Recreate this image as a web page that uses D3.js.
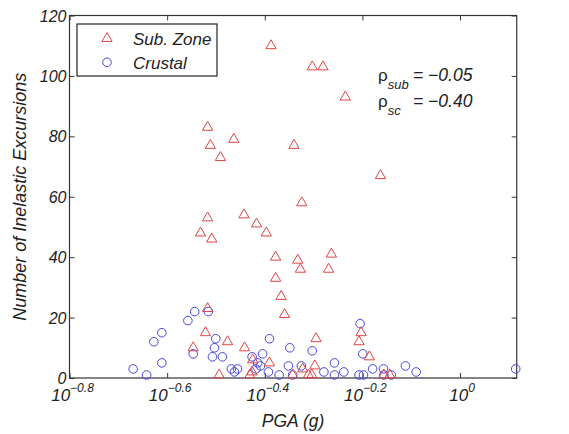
<!DOCTYPE html>
<html>
<head>
<meta charset="utf-8">
<script src="https://cdn.jsdelivr.net/npm/d3@7"></script>
<style>
  body { margin: 0; background: #fff; }
  text { font-family: "Liberation Sans", Arial, sans-serif; font-style: italic; fill: #222; }
</style>
</head>
<body>
<svg id="chart" width="569" height="434"></svg>
<script>
// Sub. Zone records (PGA in g, count)
const subPGA = [0.410, 0.498, 0.524, 0.582, 0.304, 0.344, 0.308, 0.457, 0.323, 0.687,
                0.474, 0.361, 0.304, 0.383, 0.294, 0.401, 0.310, 0.545, 0.419, 0.465,
                0.471, 0.538, 0.419, 0.430, 0.437, 0.304, 0.301, 0.627, 0.334, 0.507,
                0.621, 0.284, 0.362, 0.652, 0.407, 0.504, 0.476, 0.321, 0.371, 0.375,
                0.489, 0.497, 0.454, 0.698, 0.718, 0.376];
const subCount = [110, 103, 103, 93, 83, 79, 77, 77, 73, 67,
                  58, 54, 53, 51, 48, 48, 46, 41, 40, 39,
                  36, 36, 33, 27, 21, 23, 15, 15, 12, 13,
                  12, 10, 10, 7, 5, 4, 3, 1, 1, 2,
                  1, 1, 1, 1, 1, 6];

// Crustal records
const crustalPGA = [0.214, 0.228, 0.236, 0.245, 0.245, 0.277, 0.286, 0.305, 0.284, 0.316,
                    0.314, 0.311, 0.326, 0.340, 0.350, 0.345, 0.375, 0.394, 0.385, 0.382,
                    0.390, 0.405, 0.426, 0.407, 0.448, 0.445, 0.473, 0.454, 0.498, 0.526,
                    0.553, 0.553, 0.578, 0.624, 0.632, 0.621, 0.634, 0.662, 0.697, 0.698,
                    0.723, 0.773, 0.813, 1.300];
const crustalCount = [3, 1, 12, 15, 5, 19, 22, 22, 8, 13,
                      10, 7, 7, 3, 3, 2, 7, 8, 5, 3,
                      4, 2, 1, 13, 10, 4, 4, 1, 9, 2,
                      5, 1, 2, 18, 8, 1, 1, 3, 3, 1,
                      1, 4, 2, 3];

const xTickExp = ["-0.8", "-0.6", "-0.4", "-0.2", "0"];
const yTicks = [0, 20, 40, 60, 80, 100, 120];

const svg = d3.select("#chart");
const plot = {left: 69.5, right: 516.7, top: 15.5, bottom: 378};
const axisColor = "#333";

const x = d3.scaleLog().domain([Math.pow(10, -0.8), Math.pow(10, 0.116)]).range([plot.left, plot.right]);
const y = d3.scaleLinear().domain([0, 120]).range([plot.bottom, plot.top]);
const xTickVals = xTickExp.map(e => Math.pow(10, +e));

// axes with inward ticks
svg.append("g")
    .attr("transform", "translate(0," + plot.bottom + ")")
    .call(d3.axisBottom(x).tickValues(xTickVals).tickSizeInner(-5).tickSizeOuter(0).tickFormat(""))
    .call(g => g.select(".domain").remove());
svg.append("g")
    .attr("transform", "translate(0," + plot.top + ")")
    .call(d3.axisTop(x).tickValues(xTickVals).tickSizeInner(-5).tickSizeOuter(0).tickFormat(""))
    .call(g => g.select(".domain").remove());
svg.append("g")
    .attr("transform", "translate(" + plot.left + ",0)")
    .call(d3.axisLeft(y).tickValues(yTicks).tickSizeInner(-5).tickSizeOuter(0).tickFormat(""))
    .call(g => g.select(".domain").remove());
svg.append("g")
    .attr("transform", "translate(" + plot.right + ",0)")
    .call(d3.axisRight(y).tickValues(yTicks).tickSizeInner(-5).tickSizeOuter(0).tickFormat(""))
    .call(g => g.select(".domain").remove());
svg.selectAll(".tick line").attr("stroke", axisColor);

svg.append("rect")
    .attr("x", plot.left).attr("y", plot.top)
    .attr("width", plot.right - plot.left).attr("height", plot.bottom - plot.top)
    .attr("fill", "none").attr("stroke", axisColor).attr("stroke-width", 1.2);

// y tick labels
svg.append("g").selectAll("text")
  .data(yTicks)
  .enter().append("text")
    .attr("x", plot.left - 3)
    .attr("y", d => y(d) + 6)
    .attr("text-anchor", "end")
    .attr("font-size", 16)
    .text(d => d);

// x tick labels: 10^exp
const xl = svg.append("g").selectAll("text")
  .data(xTickExp)
  .enter().append("text")
    .attr("x", d => x(Math.pow(10, +d)) + (d === "0" ? 2 : 3))
    .attr("y", 401)
    .attr("text-anchor", "middle")
    .attr("font-size", 17);
xl.append("tspan").text("10");
xl.append("tspan")
    .attr("dy", -9)
    .attr("font-size", 12)
    .text(d => d.replace("-", "\u2212"));

// axis titles
svg.append("text")
    .attr("x", (plot.left + plot.right) / 2)
    .attr("y", 427)
    .attr("text-anchor", "middle")
    .attr("font-size", 17.5)
    .text("PGA (g)");
svg.append("text")
    .attr("transform", "translate(26," + (plot.top + plot.bottom) / 2 + ") rotate(-90)")
    .attr("text-anchor", "middle")
    .attr("font-size", 18)
    .text("Number of Inelastic Excursions");

const subColor = "#e04545", crustColor = "#4545e0";
const tri = d3.symbol().type(d3.symbolTriangle).size(46);

// crustal circles
svg.append("g").selectAll("circle")
  .data(crustalPGA)
  .enter().append("circle")
    .attr("cx", d => x(d))
    .attr("cy", (d, i) => y(crustalCount[i]))
    .attr("r", 4.3)
    .attr("fill", "none")
    .attr("stroke", crustColor)
    .attr("stroke-width", 1);

// sub zone triangles
svg.append("g").selectAll("path")
  .data(subPGA)
  .enter().append("path")
    .attr("d", tri)
    .attr("transform", (d, i) => "translate(" + x(d) + "," + y(subCount[i]) + ")")
    .attr("fill", "none")
    .attr("stroke", subColor)
    .attr("stroke-width", 1);

// legend
const lg = svg.append("g");
lg.append("rect")
    .attr("x", 77).attr("y", 24).attr("width", 140).attr("height", 52)
    .attr("fill", "#fff").attr("stroke", "#222").attr("stroke-width", 1.2);
lg.append("path").attr("d", tri).attr("transform", "translate(107,38.5)")
    .attr("fill", "none").attr("stroke", subColor);
lg.append("circle").attr("cx", 107).attr("cy", 62.3).attr("r", 4.3)
    .attr("fill", "none").attr("stroke", crustColor);
lg.append("text").attr("x", 133).attr("y", 44.5).attr("font-size", 17).text("Sub. Zone");
lg.append("text").attr("x", 133).attr("y", 68.5).attr("font-size", 17).text("Crustal");

// correlation annotation
const ann = svg.append("g");
[["sub", "= \u22120.05", 81], ["sc", "= \u22120.40", 107]].forEach(r => {
  const t = ann.append("text").attr("x", 378).attr("y", r[2]).attr("font-size", 17);
  t.append("tspan").attr("font-style", "normal").text("\u03c1");
  t.append("tspan").attr("dy", 8).attr("font-size", 13).text(r[0]);
  ann.append("text").attr("x", 413).attr("y", r[2]).attr("font-size", 17.5).text(r[1]);
});
</script>
</body>
</html>
